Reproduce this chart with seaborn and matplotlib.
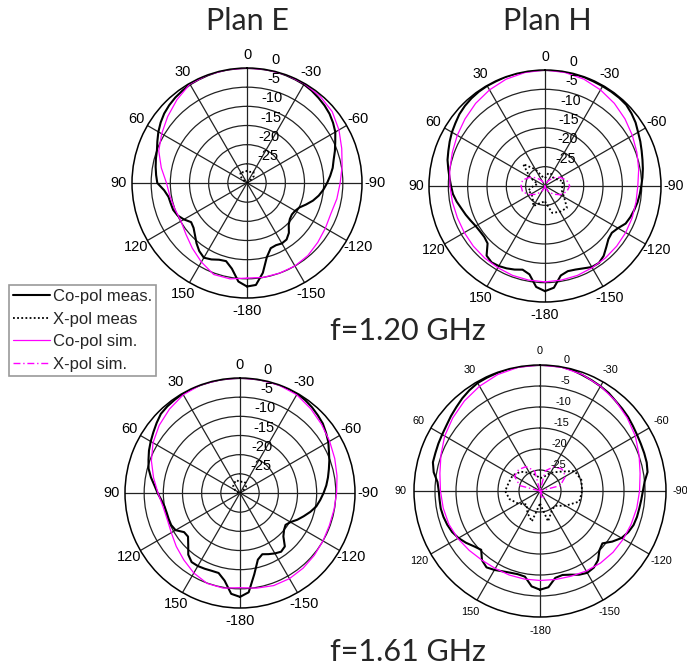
import numpy as np
import matplotlib.pyplot as plt
import matplotlib.transforms as mtransforms
from matplotlib.lines import Line2D
import seaborn as sns

ang5 = np.arange(-180, 181, 5)
ang10 = np.arange(-180, 181, 10)
ang15 = np.arange(-180, 181, 15)

theta_ticks = [0, 30, 60, 90, 120, 150, 180, 210, 240, 270, 300, 330]
theta_labels = ["0", "30", "60", "90", "120", "150", "-180", "-150", "-120", "-90", "-60", "-30"]
r_ticks = [-25, -20, -15, -10, -5, 0]

# ---- Plan E, f=1.20 GHz (dB) ----
e120_co_meas = [-3.0, -3.3, -6.2, -10.0, -11.9, -12.1, -11.8, -12.0, -13.0, -14.6, -15.4, -15.7,
                -15.5, -14.9, -13.6, -12.2, -11.0, -10.0, -9.1, -8.2, -7.3, -6.6, -5.6, -4.6,
                -3.4, -2.6, -1.9, -1.4, -1.0, -0.6, -0.3, -0.2, -0.1, 0.0, 0.0, 0.0,
                0.0, 0.0, 0.0, 0.0, -0.1, -0.2, -0.3, -0.6, -0.9, -1.3, -1.8, -2.5,
                -3.3, -4.2, -5.0, -5.4, -5.8, -6.2, -6.6, -8.3, -9.2, -9.4, -9.5, -10.0,
                -11.0, -12.2, -11.8, -10.8, -9.5, -8.3, -7.5, -8.0, -8.7, -8.9, -7.3, -4.2,
                -3.0]
e120_x_meas = [-30, -30, -30, -30, -30, -30, -30, -30, -29.5, -27.5, -26.6, -27.0, -26.8,
               -27.2, -26.6, -27.6, -29.5, -30, -30, -30, -30, -30, -30, -30, -30]
e120_co_sim = [-5.2, -5.0, -5.0, -5.0, -5.3, -5.9, -6.4, -6.7, -6.2, -5.7,
               -4.8, -3.7, -2.3, -1.0, -0.4, -0.1, 0.0, 0.0, 0.0, 0.0,
               0.0, -0.2, -1.6, -3.0, -4.3, -5.5, -7.3, -9.0, -9.6, -10.0,
               -10.1, -9.2, -7.8, -6.2, -4.6, -4.6, -5.2]

# ---- Plan H, f=1.20 GHz ----
h120_co_meas = [-2.8, -3.6, -6.5, -7.2, -7.0, -6.5, -5.8, -5.7, -6.4, -7.6, -8.6, -8.9,
                -8.2, -7.0, -6.5, -6.1, -5.7, -5.4, -5.1, -4.7, -4.3, -3.9, -3.4, -2.8,
                -2.2, -1.4, -0.8, -0.3, -0.2, -0.2, -0.2, -0.2, -0.1, -0.1, 0.0, 0.0,
                0.0, 0.0, 0.0, 0.0, 0.0, -0.1, -0.1, -0.2, -0.4, -0.7, -1.1, -1.7,
                -2.2, -2.8, -3.4, -3.9, -4.6, -5.2, -5.7, -6.1, -6.8, -7.6, -8.2, -8.8,
                -9.3, -9.5, -9.5, -9.0, -6.5, -5.9, -6.1, -6.5, -7.0, -7.6, -6.8, -3.8,
                -2.8]
h120_x_meas = [-26, -22.8, -22.3, -22.0, -24.3, -25.5, -25.5, -25.2, -26.5, -27, -26.5, -26.5,
               -28, -27.5, -25, -22, -25.5, -28, -27, -25.5, -26, -25.5, -24, -25.5, -26]
h120_co_sim = [-5.2, -5.3, -5.4, -5.6, -5.7, -5.8, -5.9, -6.0, -6.1, -6.0,
               -5.4, -4.7, -3.9, -3.0, -2.1, -1.3, -0.6, -0.2, 0.0, -0.2,
               -0.6, -1.3, -2.1, -3.0, -3.8, -4.5, -5.0, -5.4, -5.7, -5.9,
               -5.9, -5.8, -5.7, -5.6, -5.4, -5.3, -5.2]
h120_x_sim = [-30, -29.5, -28.5, -27, -25.5, -24.2, -23.6, -24.2, -25.5, -27, -28.5, -29.5,
              -30, -29.5, -28.5, -27, -25.5, -24.0, -23.8, -24.0, -25.5, -27, -28.5, -29.5, -30]

# ---- Plan E, f=1.61 GHz ----
e161_co_meas = [-2.9, -4.0, -8.5, -12.0, -13.0, -12.4, -11.8, -11.3, -11.8, -14.0, -15.0, -15.5,
                -14.8, -13.5, -12.3, -11.0, -9.8, -9.0, -8.2, -7.4, -6.7, -6.0, -5.2, -4.4,
                -3.4, -2.6, -1.8, -1.3, -0.8, -0.4, -0.1, 0.0, 0.0, 0.0, 0.0, 0.0,
                0.0, 0.0, 0.0, 0.0, 0.0, 0.0, -0.1, -0.3, -0.5, -0.8, -1.6, -2.4,
                -3.1, -3.8, -4.6, -5.3, -6.4, -7.6, -8.5, -9.4, -10.0, -10.2, -10.2, -10.2,
                -10.6, -12.2, -12.3, -10.9, -9.0, -8.0, -8.0, -8.2, -8.4, -8.4, -6.8, -3.6,
                -2.9]
e161_x_meas = [-30, -30, -30, -30, -30, -30, -30, -30, -29.5, -27.8, -27.0, -26.8, -27.2,
               -26.5, -27.0, -27.5, -28.5, -29.5, -30, -30, -30, -30, -30, -30, -30]
e161_co_sim = [-5.3, -4.8, -4.3, -4.2, -4.4, -4.7, -5.0, -5.2, -5.1, -4.8,
               -4.3, -3.7, -3.0, -2.2, -1.3, -0.4, -0.1, 0.0, 0.0, 0.0,
               0.0, -0.4, -1.4, -2.5, -3.8, -5.4, -7.1, -8.6, -9.6, -9.8,
               -9.3, -8.3, -7.2, -5.9, -4.9, -4.8, -5.3]

# ---- Plan H, f=1.61 GHz ----
h161_co_meas = [-6.5, -7.0, -9.0, -9.3, -8.8, -8.0, -7.5, -7.7, -8.5, -10.0, -10.6, -9.0,
                -7.6, -6.8, -6.3, -6.1, -6.0, -5.8, -5.5, -5.0, -4.0, -3.7, -3.6, -3.5,
                -3.3, -3.0, -2.6, -2.3, -2.0, -1.5, -1.2, -0.9, -0.6, -0.2, 0.0, 0.0,
                0.0, 0.0, 0.0, 0.0, -0.1, -0.2, -0.3, -0.7, -1.2, -1.8, -2.3, -2.8,
                -3.1, -3.3, -3.5, -3.6, -4.3, -5.5, -5.9, -6.0, -6.0, -6.2, -6.5, -6.9,
                -7.6, -8.5, -9.5, -10.2, -8.5, -7.8, -8.3, -8.9, -9.3, -9.5, -9.3, -7.2,
                -6.5]
h161_x_meas = [-27, -22.5, -24.5, -25, -23, -20.3, -20, -19.8, -20.5, -23.5, -25, -26.5,
               -27, -26, -25, -23.5, -22.5, -22.3, -21.7, -22.5, -24, -25.5, -24, -22.5, -27]
h161_co_sim = [-8.7, -8.6, -8.4, -8.0, -7.6, -7.3, -7.1, -6.9, -6.6, -6.3,
               -5.8, -4.9, -3.8, -2.9, -2.0, -1.2, -0.5, -0.1, 0.0, -0.1,
               -0.5, -1.2, -2.0, -2.9, -3.8, -4.9, -5.8, -6.3, -6.6, -6.9,
               -7.4, -8.0, -8.5, -8.7, -8.7, -8.7, -8.7]
h161_x_sim = [-30, -28.5, -28, -29.5, -30, -30, -30, -25, -23, -22.6, -23.3, -25,
              -30, -25, -23.3, -22.8, -23, -25, -30, -30, -30, -30, -30, -30, -30]

W, H = 687, 668
sns.set_theme(style="white")
plt.rcParams["font.family"] = ["Liberation Sans", "DejaVu Sans"]

fig = plt.figure(figsize=(W / 100, H / 100), dpi=100)


def box(cx, cy, r):
    # axes rectangle (figure fraction) from a centre and radius in pixels
    return [(cx - r) / W, (H - cy - r) / H, 2 * r / W, 2 * r / H]


def curve(ax, ang, vals, **kw):
    sns.lineplot(x=np.deg2rad(ang), y=np.clip(vals, -30, 0), ax=ax,
                 sort=False, estimator=None, **kw)


def draw_panel(rect, co_meas, x_meas, co_sim, x_sim, fs, pad, lab_dx, lab_dy):
    ax = fig.add_axes(rect, projection="polar")
    curve(ax, ang5, co_meas, color="black", lw=1.5)
    curve(ax, ang15, x_meas, color="black", lw=1.3, linestyle=(0, (1, 1.3)))
    curve(ax, ang10, co_sim, color="#ff00ff", lw=0.9)
    if x_sim is not None:
        curve(ax, ang15, x_sim, color="#ff00ff", lw=1.0, linestyle=(0, (5, 2, 1, 2)))
    ax.set_theta_zero_location("N")
    ax.set_theta_direction(1)
    ax.set_ylim(-30, 0)
    ax.set_xlabel("")
    ax.set_ylabel("")
    ax.set_thetagrids(theta_ticks, labels=theta_labels)
    ax.set_rgrids(r_ticks[:-1], labels=[])
    ax.grid(True, color="#222222", lw=0.9)
    ax.spines["polar"].set_color("black")
    ax.spines["polar"].set_linewidth(1.1)
    ax.tick_params(axis="x", labelsize=fs, length=0, pad=pad, colors="black")
    for k, v in enumerate(r_ticks):
        tr = mtransforms.offset_copy(ax.transData, fig=fig,
                                     x=(lab_dx[0] + lab_dx[1] * k) * 0.72,
                                     y=lab_dy * 0.72, units="points")
        ax.text(0, v, str(v), transform=tr, ha="center", va="center",
                fontsize=fs, color="black")
    return ax


draw_panel(box(247, 183, 115), e120_co_meas, e120_x_meas, e120_co_sim, None, 10.5, 2.5, (21, 1.4), 8)
draw_panel(box(545, 186, 116), h120_co_meas, h120_x_meas, h120_co_sim, h120_x_sim, 10.2, 2.2, (21, 1.4), 8)
draw_panel(box(240, 493, 115), e161_co_meas, e161_x_meas, e161_co_sim, None, 10.5, 2.5, (21, 1.4), 8)
draw_panel(box(540, 491, 126), h161_co_meas, h161_x_meas, h161_co_sim, h161_x_sim, 7.8, 3.0, (18, 1.8), 5)

title_font = ["Lato", "DejaVu Sans"]
fig.text(247 / W, 1 - 21 / H, "Plan E", ha="center", va="center", fontsize=22, family=title_font)
fig.text(547 / W, 1 - 21 / H, "Plan H", ha="center", va="center", fontsize=22, family=title_font)
fig.text(408 / W, 1 - 331 / H, "f=1.20 GHz", ha="center", va="center", fontsize=22, family=title_font)
fig.text(408 / W, 1 - 652 / H, "f=1.61 GHz", ha="center", va="center", fontsize=22, family=title_font)

handles = [
    Line2D([], [], color="black", lw=1.5),
    Line2D([], [], color="black", lw=1.3, linestyle=(0, (1, 1.3))),
    Line2D([], [], color="#ff00ff", lw=0.9),
    Line2D([], [], color="#ff00ff", lw=1.0, linestyle=(0, (5, 2, 1, 2))),
]
labels = ["Co-pol meas.", "X-pol meas", "Co-pol sim.", "X-pol sim."]
leg = fig.legend(handles, labels, loc="upper left", bbox_to_anchor=(9 / W, 1 - 285 / H),
                 frameon=True, fancybox=False, edgecolor="#808080", fontsize=12,
                 borderpad=0.25, handlelength=2.2, handletextpad=0.2,
                 labelspacing=0.45, borderaxespad=0)
leg.get_frame().set_linewidth(1.2)

fig.savefig("out.png", dpi=100)
